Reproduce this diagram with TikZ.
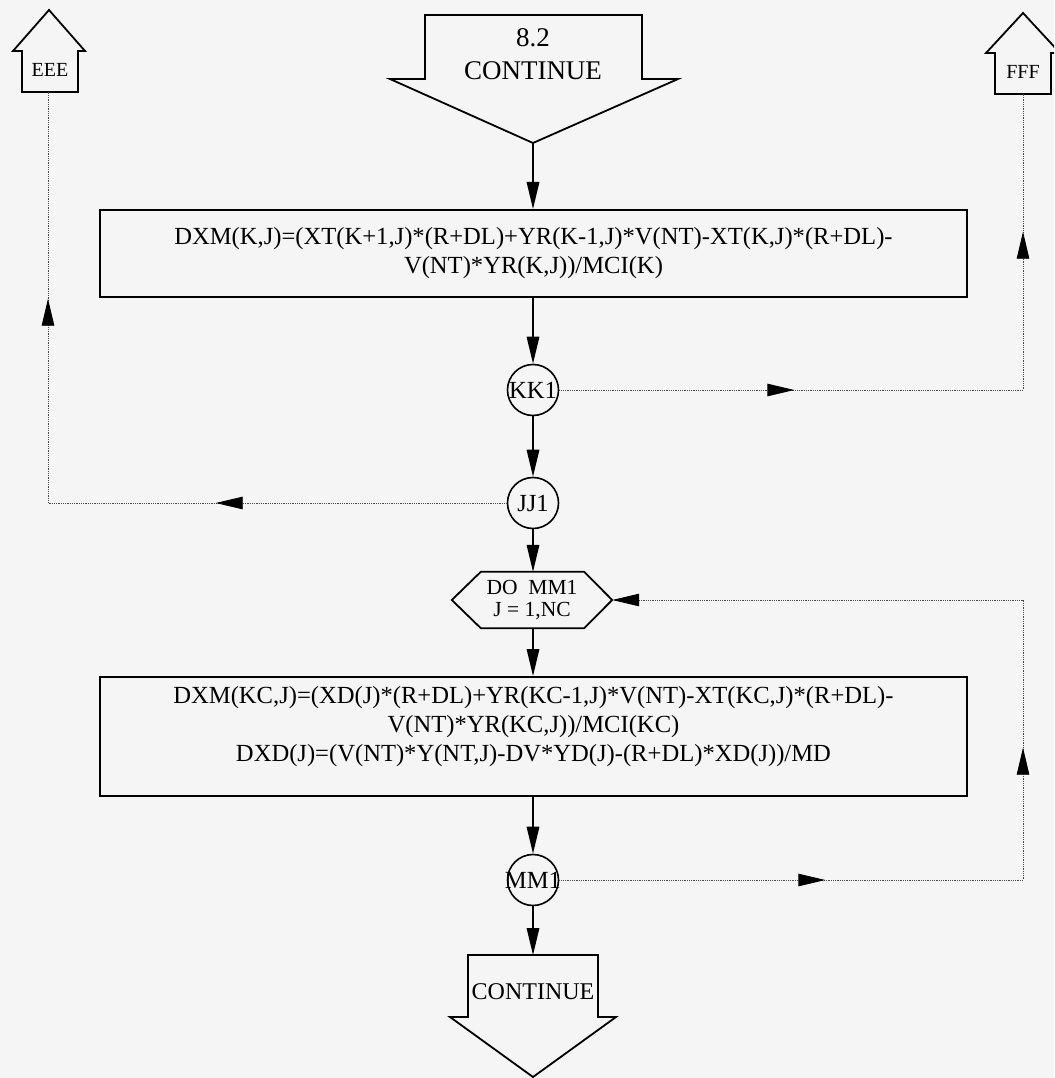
\documentclass[tikz,border=0pt]{standalone}
\usepackage{fontspec}
\setmainfont{Liberation Serif}
\usetikzlibrary{arrows.meta,decorations.markings}
\tikzset{Tri/.tip={Triangle[length=27pt,width=12.5pt,color=black]}}
\begin{document}
\begin{tikzpicture}[x=1pt,y=-1pt,
  outline/.style={line width=1.8pt},
  box/.style={draw, line width=2pt, rectangle, minimum width=867pt, inner sep=0pt},
  conn/.style={draw, circle, line width=1.6pt, minimum size=51pt, inner sep=0pt},
  flow/.style={line width=1.6pt, -Tri},
  loopline/.style={dash pattern=on 0.9pt off 0.9pt, line width=0.9pt, black!70},
  txt/.style={font=\fontsize{24.6}{29}\selectfont, align=center},
  ]
\clip (0,0) rectangle (1054,1078);
\fill[black!4] (0,0) rectangle (1054,1078);

% top continue
\draw[outline] (425,15) -- (642,15) -- (642,79) -- (678,79) -- (533,143) -- (390,79) -- (425,79) -- cycle;
\node[font=\fontsize{27}{33}\selectfont, align=center] (top) at (533,54) {8.2\\CONTINUE};
\coordinate (topapex) at (533,143);

% EEE exit
\draw[outline] (49,10) -- (85,51) -- (78,51) -- (78,92) -- (22,92) -- (22,51) -- (13,51) -- cycle;
\node[font=\fontsize{20}{22}\selectfont] (eee) at (50,70) {EEE};
\coordinate (eeeb) at (48,92);

% FFF exit
\draw[outline] (1023,13) -- (1060,53) -- (1051,53) -- (1051,94) -- (995,94) -- (995,53) -- (986,53) -- cycle;
\node[font=\fontsize{20}{22}\selectfont] (fff) at (1023,72) {FFF};
\coordinate (fffb) at (1023,94);

% box 1
\node[box, minimum height=87pt, txt] (b1) at (533.5,253.5)
  {DXM(K,J)=(XT(K+1,J)*(R+DL)+YR(K-1,J)*V(NT)-XT(K,J)*(R+DL)-\\V(NT)*YR(K,J))/MCI(K)};

% connectors circles
\node[conn, label={[txt]center:KK1}] (kk1) at (533,390) {};
\node[conn, label={[txt]center:JJ1}] (jj1) at (533,503) {};

% hexagon
\node[font=\fontsize{21.5}{22}\selectfont, align=center, minimum width=160pt, minimum height=56pt, inner sep=0pt] (hex) at (532,600) {DO~~MM1\\J = 1,NC};
\draw[outline] (hex.west) -- ([xshift=29pt]hex.north west) -- ([xshift=-28pt]hex.north east) -- (hex.east)
  -- ([xshift=-28pt]hex.south east) -- ([xshift=29pt]hex.south west) -- cycle;

% box 2
\node[box, minimum height=119pt] (b2) at (533.5,736.5) {};
\node[txt] (b2t) at (533.5,727)
  {DXM(KC,J)=(XD(J)*(R+DL)+YR(KC-1,J)*V(NT)-XT(KC,J)*(R+DL)-\\V(NT)*YR(KC,J))/MCI(KC)\\DXD(J)=(V(NT)*Y(NT,J)-DV*YD(J)-(R+DL)*XD(J))/MD};

\node[conn, label={[txt]center:MM1}] (mm1) at (533,880) {};

% bottom continue
\draw[outline] (468,955) -- (598,955) -- (598,1017) -- (616,1017) -- (533,1077) -- (450,1017) -- (468,1017) -- cycle;
\node[font=\fontsize{24}{28}\selectfont] (bot) at (533,992) {CONTINUE};
\coordinate (botin) at (533,955);

% main flow
\draw[flow] (topapex) -- (topapex |- b1.north);
\draw[flow] (b1.south -| kk1) -- (kk1.north);
\draw[flow] (kk1.south) -- (jj1.north);
\draw[flow] (jj1.south) -- (jj1.south |- hex.north);
\draw[flow] (hex.south -| jj1) -- (jj1 |- b2.north);
\draw[flow] (b2.south -| mm1) -- (mm1.north);
\draw[flow] (mm1.south) -- (botin);

% loop lines
\coordinate (r1) at (1023,390);
\coordinate (l1) at (48,503);
\coordinate (r2) at (1023,880);
\coordinate (r3) at (1023,600);
\draw[loopline, postaction={decorate}, decoration={markings,
   mark=at position 235pt with {\arrow{Tri}},
   mark=at position 622pt with {\arrow{Tri}}}]
  (kk1.east) -- (r1) -- (fffb);
\draw[loopline, postaction={decorate}, decoration={markings,
   mark=at position 291pt with {\arrow{Tri}},
   mark=at position 663pt with {\arrow{Tri}}}]
  (jj1.west) -- (l1) -- (eeeb);
\draw[loopline, -Tri, postaction={decorate}, decoration={markings,
   mark=at position 266pt with {\arrow{Tri}},
   mark=at position 596pt with {\arrow{Tri}}}]
  (mm1.east) -- (r2) -- (r3) -- (hex.east);
\end{tikzpicture}
\end{document}
